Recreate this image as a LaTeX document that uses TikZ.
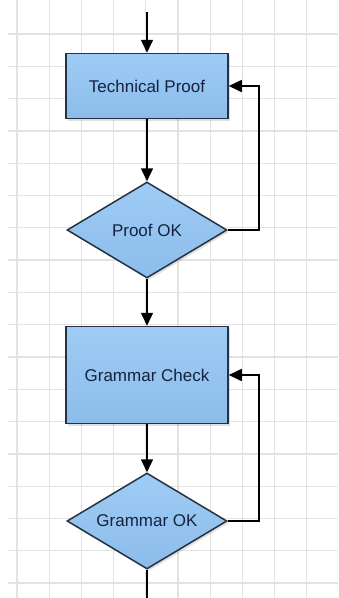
\documentclass[tikz,border=0pt]{standalone}
\usepackage{fontspec}
\setmainfont{Liberation Sans}
\usepackage{xcolor}
\usetikzlibrary{positioning, shapes, shapes.geometric, arrows.meta, shadows}
\definecolor{boxtop}{RGB}{158,204,246}
\definecolor{boxbottom}{RGB}{140,188,234}
\definecolor{boxline}{RGB}{38,50,66}
\definecolor{labeltext}{RGB}{22,34,62}
\definecolor{gridgray}{RGB}{226,226,226}

\begin{document}
\begin{tikzpicture}[
    x=1pt, y=1pt,
    gridline/.style={draw=gridgray, line width=1.3pt},
    procbox/.style={rectangle, draw=boxline, line width=1.5pt, top color=boxtop, bottom color=boxbottom, minimum width=162pt, minimum height=65pt, font=\fontsize{17}{19}\selectfont, text=labeltext, drop shadow={shadow xshift=2pt, shadow yshift=-2pt, opacity=0.25}},
    decision/.style={diamond, draw=boxline, line width=1.5pt, top color=boxtop, bottom color=boxbottom, aspect=1.667, minimum width=160pt, minimum height=96pt, inner sep=0pt, font=\fontsize{17}{19}\selectfont, text=labeltext, drop shadow={shadow xshift=2pt, shadow yshift=-2pt, opacity=0.25}},
    arrow/.style={-{Triangle[length=13pt, width=12pt]}, line width=1.6pt, black}
]
\useasboundingbox (0,0) rectangle (338,-598);
\fill[white] (0,0) rectangle (338,-598);

% Grid
\foreach \i in {0,...,9}
    \draw[gridline] (17+32.2*\i,0) -- (17+32.2*\i,-598);
\foreach \j in {0,...,17}
    \draw[gridline] (8,-34-32.3*\j) -- (338,-34-32.3*\j);

% Proof steps
\node[procbox] (tech_proof) at (147,-86) {Technical Proof};
\node[decision, below=62pt of tech_proof] (proof_ok) {Proof OK};
\node[procbox, minimum height=97pt, below=47pt of proof_ok] (grammar_check) {Grammar Check};
\node[decision, below=48pt of grammar_check] (grammar_ok) {Grammar OK};

\coordinate (flow_in) at (147,-12);
\coordinate (flow_out) at (147,-598);

% Flow arrows
\draw[arrow] (flow_in) -- (tech_proof);
\draw[arrow] (tech_proof) -- (proof_ok);
\draw[arrow] (proof_ok) -- (grammar_check);
\draw[arrow] (grammar_check) -- (grammar_ok);
\draw[line width=1.6pt] (grammar_ok) -- (flow_out);

% Loops back
\draw[arrow] (proof_ok.east) -- ++(31,0) |- (tech_proof.east);
\draw[arrow] (grammar_ok.east) -- ++(31,0) |- (grammar_check.east);

\end{tikzpicture}
\end{document}
